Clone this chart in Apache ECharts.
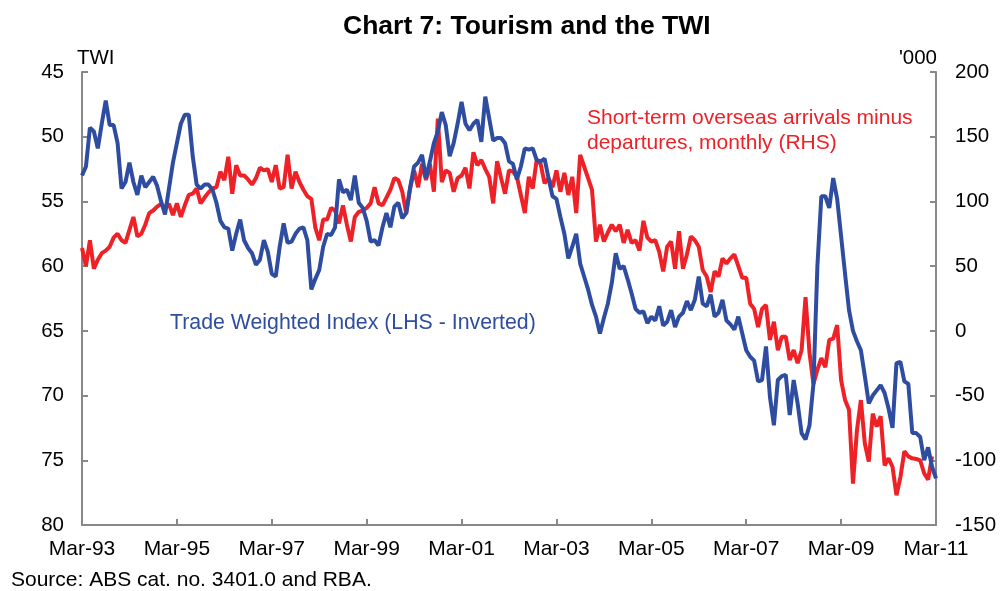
<!DOCTYPE html>
<html>
<head>
<meta charset="utf-8">
<script src="https://cdn.jsdelivr.net/npm/echarts@6/dist/echarts.min.js"></script>
<style>
html,body{margin:0;padding:0;background:#fff;}
#chart{width:1000px;height:591px;}
</style>
</head>
<body>
<div id="chart"></div>
<script>
// Monthly, Mar-93 .. Mar-11
const monthNames = ['Jan','Feb','Mar','Apr','May','Jun','Jul','Aug','Sep','Oct','Nov','Dec'];
const categories = [];
for (let k = 0; k < 217; k++) {
  const m = (2 + k) % 12;
  const y = 1993 + Math.floor((2 + k) / 12);
  categories.push(monthNames[m] + '-' + String(y % 100).padStart(2, '0'));
}

// Trade Weighted Index (LHS, inverted)
const twi = [
  53.0,52.3,49.3,49.6,50.9,49.0,47.2,49.1,49.1,50.5,
  54.0,53.5,52.0,53.5,54.5,53.0,53.9,53.5,53.1,53.8,
  55.0,56.0,54.0,52.0,50.5,49.0,48.3,48.3,51.5,53.7,
  54.0,53.7,53.7,54.1,55.1,56.5,57.0,57.1,58.8,57.5,
  56.4,58.0,58.6,59.0,59.9,59.5,58.0,58.9,60.6,60.8,
  58.5,56.7,58.2,58.1,57.5,57.1,57.0,58.0,61.8,61.0,
  60.3,58.5,57.5,57.6,57.0,53.3,54.3,54.1,54.9,53.0,
  55.1,55.5,56.5,58.1,58.0,58.4,57.0,55.9,57.0,55.4,
  55.1,56.3,55.9,53.9,52.3,52.0,51.4,53.2,51.9,50.5,
  49.6,48.1,49.1,51.5,50.5,49.0,47.3,49.0,49.5,49.0,
  48.7,50.4,46.9,48.6,50.3,50.1,50.1,50.5,51.9,52.1,
  53.3,52.3,50.9,51.0,50.9,51.8,51.9,51.7,53.2,54.6,
  54.8,56.2,57.5,59.4,58.5,57.5,59.8,60.8,61.8,63.0,
  63.9,65.2,64.0,62.9,61.3,59.0,60.2,60.0,61.0,62.1,
  63.3,63.6,63.5,64.4,63.9,64.2,63.1,64.6,64.3,63.4,
  64.7,63.9,63.6,62.7,63.4,62.6,60.8,62.9,63.1,62.2,
  63.9,63.6,62.6,64.2,64.5,64.9,63.9,65.2,66.5,67.0,
  67.3,68.9,68.8,66.2,70.1,72.3,68.8,68.5,68.4,71.5,
  68.8,70.6,72.9,73.4,72.3,69.1,60.0,54.6,54.6,55.5,
  53.2,54.8,57.7,60.6,63.4,65.0,65.8,66.5,68.5,70.6,
  70.0,69.6,69.2,69.8,71.0,72.5,67.5,67.4,68.9,69.1,
  72.9,72.9,73.2,75.0,74.0,75.5,76.4
];

// Short-term overseas arrivals minus departures, monthly ('000, RHS)
const arrivals = [
  64,50,70,48,55,60,62,65,72,75,
  70,68,78,88,73,75,82,91,93,96,
  98,95,98,89.5,98.5,88,97,105,106,110,
  98.5,103,107,110,111,123,116.5,134.5,106,128,
  120,120,117,113,118,126,124,125,115,128,
  110,111,136,110,123,115,109,104,102,80,
  70,86,86,95,93,83,97,82,69,88,
  92,93,95,98.5,111,98.5,97,103,109,118,
  116.5,107.5,91,110,124,111,129,116.5,129,107.5,
  164,115,124,122,107.5,118,120,126,110,138,
  128,132,125,119,98.5,131,118,106,124,123,
  119,105,91,119,110,132,129,114,118,111,
  124,107.5,122,105,119,91,136,127,118,109,
  69,82,69,76,82,77,82,68,78,68,
  70,62,85,72,69,70,61,46,65,69,
  48,77,48,59,73,70,65,47,42,30,
  46,42,56,52,56,59,50,41,41,21,
  17,3,17,20,-7,7,-15,-4.5,-4.5,-22.6,
  -14.8,-25,-15,26,-17,-41,-30,-21,-28,-7,
  -6,4.5,-38,-53.5,-61,-118,-77,-53.5,-87,-101,
  -64,-74,-66,-104,-98.5,-105,-127,-113,-93,-97,
  -98.5,-99,-100,-110,-115,-97,null
];

const leftTicks = {min: 45, max: 80, step: 5};
const rightTicks = {min: -150, max: 200, step: 50};

const FONT = '"Liberation Sans", Arial, sans-serif';
const AXIS_COLOR = '#888888';
const BLUE = '#2E4DA0';
const RED = '#EE2127';
const FS = 21;

const chart = echarts.init(document.getElementById('chart'), null, {renderer: 'canvas'});
chart.setOption({
  animation: false,
  backgroundColor: '#ffffff',
  title: {
    text: 'Chart 7: Tourism and the TWI',
    left: 338,
    top: 8,
    textStyle: {fontFamily: FONT, fontSize: 26.5, fontWeight: 'bold', color: '#000'}
  },
  grid: {left: 82, right: 64, top: 72, bottom: 66, containLabel: false},
  xAxis: {
    type: 'category',
    data: categories,
    boundaryGap: false,
    axisLine: {onZero: false, lineStyle: {color: AXIS_COLOR, width: 2}},
    axisTick: {
      inside: true, length: 6,
      interval: function (i) { return i % 24 === 0; },
      lineStyle: {color: AXIS_COLOR, width: 2}
    },
    axisLabel: {
      interval: function (i) { return i % 24 === 0; },
      fontFamily: FONT, fontSize: FS, color: '#000', margin: 14
    },
    splitLine: {show: false}
  },
  yAxis: [
    {
      type: 'value',
      inverse: true,
      min: leftTicks.min, max: leftTicks.max, interval: leftTicks.step,
      position: 'left',
      axisLine: {show: true, lineStyle: {color: AXIS_COLOR, width: 2}},
      axisTick: {show: true, inside: true, length: 6, lineStyle: {color: AXIS_COLOR, width: 2}},
      axisLabel: {fontFamily: FONT, fontSize: 20.5, color: '#000', margin: 18},
      splitLine: {show: false}
    },
    {
      type: 'value',
      min: rightTicks.min, max: rightTicks.max, interval: rightTicks.step,
      position: 'right',
      axisLine: {show: true, lineStyle: {color: AXIS_COLOR, width: 2}},
      axisTick: {show: true, inside: true, length: 6, lineStyle: {color: AXIS_COLOR, width: 2}},
      axisLabel: {fontFamily: FONT, fontSize: 20.5, color: '#000', margin: 19},
      splitLine: {show: false}
    }
  ],
  series: [
    {
      name: 'Short-term overseas arrivals minus departures, monthly (RHS)',
      type: 'line',
      yAxisIndex: 1,
      data: arrivals,
      showSymbol: false,
      lineStyle: {color: RED, width: 4},
      z: 2
    },
    {
      name: 'Trade Weighted Index (LHS - Inverted)',
      type: 'line',
      yAxisIndex: 0,
      data: twi,
      showSymbol: false,
      lineStyle: {color: BLUE, width: 4},
      z: 3
    }
  ],
  graphic: [
    {type: 'text', left: 77, top: 48, style: {text: 'TWI', fontFamily: FONT, fontSize: 20.5, fill: '#000'}},
    {type: 'text', right: 63, top: 48, style: {text: "'000", fontFamily: FONT, fontSize: 20.5, fill: '#000'}},
    {type: 'text', left: 170, top: 313, style: {text: 'Trade Weighted Index (LHS - Inverted)', fontFamily: FONT, fontSize: 21.3, fill: BLUE}},
    {type: 'text', left: 587, top: 106, style: {text: 'Short-term overseas arrivals minus\ndepartures, monthly (RHS)', fontFamily: FONT, fontSize: FS, lineHeight: 25, fill: RED}},
    {type: 'text', left: 11, top: 570, style: {text: 'Source: ABS cat. no. 3401.0 and RBA.', fontFamily: FONT, fontSize: FS, fill: '#000'}}
  ]
});
</script>
</body>
</html>
